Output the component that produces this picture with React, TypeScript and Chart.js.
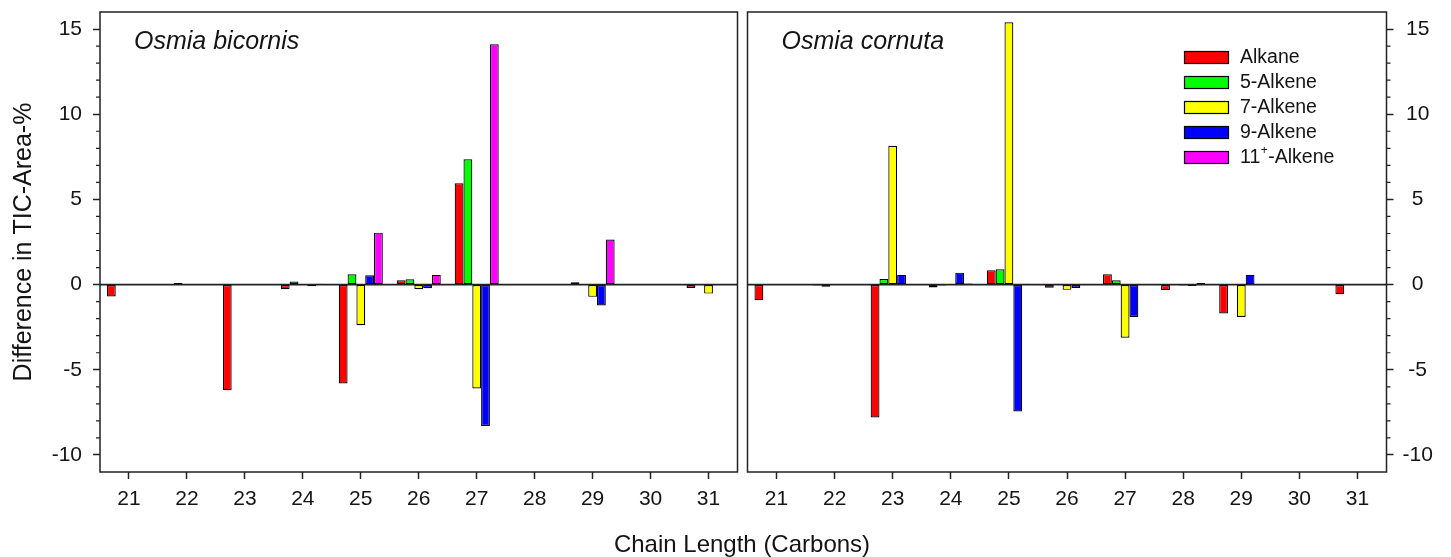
import { useEffect, useRef } from 'react';
import { Chart, registerables } from 'chart.js';

Chart.register(...registerables);

// ---------------- data ----------------
const chainLengths = ['21', '22', '23', '24', '25', '26', '27', '28', '29', '30', '31'];
const seriesNames = ['Alkane', '5-Alkene', '7-Alkene', '9-Alkene', '11⁺-Alkene'];
const seriesColors = ['#FF0000', '#00FF00', '#FFFF00', '#0000FF', '#FF00FF'];

// Osmia bicornis
const bicornisAlkane = [-0.7, 0, -6.2, -0.27, -5.8, 0.25, 5.95, 0, 0.14, 0, -0.2];
const bicornis5Alkene = [0, 0.1, 0, 0.18, 0.6, 0.31, 7.35, 0, 0, 0, 0];
const bicornis7Alkene = [0, 0, 0.03, 0, -2.38, -0.27, -6.1, 0, -0.72, 0, -0.53];
const bicornis9Alkene = [0, 0, 0.03, -0.1, 0.55, -0.21, -8.3, 0, -1.23, 0, 0];
const bicornis11Alkene = [0, 0, 0, 0.05, 3.05, 0.57, 14.1, 0, 2.65, 0, 0];

// Osmia cornuta
const cornutaAlkane = [-0.92, -0.05, -7.8, -0.17, 0.84, -0.18, 0.6, -0.33, -1.7, 0, -0.57];
const cornuta5Alkene = [0, -0.13, 0.33, -0.05, 0.9, 0.05, 0.25, 0, 0, 0, 0];
const cornuta7Alkene = [0.02, 0, 8.15, -0.03, 15.4, -0.31, -3.12, -0.05, -1.9, 0, -0.03];
const cornuta9Alkene = [0, 0, 0.57, 0.7, -7.45, -0.2, -1.9, -0.08, 0.57, 0, 0];
const cornuta11Alkene = [0, 0, 0, 0.06, 0.05, 0, 0, 0.1, 0, 0, 0];

const yMin = -11;
const yMax = 16;
const yMajorStep = 5;

const panelTitles = ['Osmia bicornis', 'Osmia cornuta'];
const xTitle = 'Chain Length (Carbons)';
const yTitle = 'Difference in TIC-Area-%';

// ---------------- styling ----------------
const FONT = "'Liberation Sans', Arial, sans-serif";
const INK = '#141414';
const LINE = '#222';

function makePlugin(side: 'left' | 'right') {
  return {
    id: 'panelDecor',
    afterDatasetsDraw(chart: any) {
      const { ctx, chartArea } = chart;
      const y = chart.scales.y;
      const y0 = y.getPixelForValue(0);
      ctx.save();
      ctx.strokeStyle = LINE;
      ctx.lineWidth = 1.6;
      ctx.beginPath();
      ctx.moveTo(chartArea.left, y0);
      ctx.lineTo(chartArea.right, y0);
      ctx.stroke();
      ctx.restore();
    },
    afterDraw(chart: any) {
      const { ctx, chartArea } = chart;
      const y = chart.scales.y;
      ctx.save();
      // frame
      ctx.strokeStyle = LINE;
      ctx.lineWidth = 1.5;
      ctx.strokeRect(chartArea.left, chartArea.top, chartArea.right - chartArea.left, chartArea.bottom - chartArea.top);
      // minor ticks
      ctx.lineWidth = 1.2;
      ctx.beginPath();
      for (let v = yMin + 1; v < yMax; v++) {
        if (v % yMajorStep === 0) continue;
        const py = y.getPixelForValue(v);
        if (side === 'left') {
          ctx.moveTo(chartArea.left - 4, py);
          ctx.lineTo(chartArea.left, py);
        } else {
          ctx.moveTo(chartArea.right, py);
          ctx.lineTo(chartArea.right + 4, py);
        }
      }
      ctx.stroke();
      // panel title
      ctx.fillStyle = INK;
      ctx.font = `italic 25px ${FONT}`;
      ctx.textBaseline = 'alphabetic';
      ctx.textAlign = 'left';
      ctx.fillText(side === 'left' ? panelTitles[0] : panelTitles[1], chartArea.left + 34, chartArea.top + 37);

      if (side === 'left') {
        // shared x-axis title, centred between the panels
        ctx.font = `24px ${FONT}`;
        ctx.textAlign = 'center';
        ctx.fillText(xTitle, 742, 552);
      } else {
        // legend
        const ds = chart.data.datasets;
        const sx = chartArea.right - 202.5;
        let sy = chartArea.top + 39;
        for (let i = 0; i < ds.length; i++) {
          ctx.fillStyle = ds[i].backgroundColor;
          ctx.fillRect(sx, sy, 45, 13);
          ctx.strokeStyle = '#000';
          ctx.lineWidth = 1.2;
          ctx.strokeRect(sx + 0.5, sy + 0.5, 44, 12);
          ctx.fillStyle = INK;
          ctx.font = `19.5px ${FONT}`;
          ctx.textAlign = 'left';
          ctx.textBaseline = 'middle';
          const label: string = ds[i].label;
          const ty = sy + 6.5;
          let tx = sx + 56;
          if (label.includes('⁺')) {
            const parts = label.split('⁺');
            ctx.fillText(parts[0], tx, ty);
            tx += ctx.measureText(parts[0]).width;
            ctx.font = `12px ${FONT}`;
            ctx.fillText('+', tx + 0.5, ty - 7);
            tx += ctx.measureText('+').width + 1;
            ctx.font = `19.5px ${FONT}`;
            ctx.fillText(parts[1], tx, ty);
          } else {
            ctx.fillText(label, tx, ty);
          }
          sy += 25;
        }
      }
      ctx.restore();
    },
  };
}

function makeConfig(side: 'left' | 'right', series: number[][]): any {
  const datasets = series.map((vals, i) => ({
    label: seriesNames[i],
    data: vals,
    backgroundColor: seriesColors[i],
    borderColor: '#000',
    borderWidth: 1.2,
    borderSkipped: false,
    categoryPercentage: 0.76,
    barPercentage: 1,
  }));
  const tickFont = { family: FONT, size: 21 };
  return {
    type: 'bar',
    data: { labels: chainLengths, datasets },
    plugins: [makePlugin(side)],
    options: {
      responsive: false,
      animation: false,
      events: [],
      layout: {
        padding: side === 'left'
          ? { top: 12, left: 0, right: 1451 - 737.5, bottom: 0 }
          : { top: 12, left: 5.5, right: 0, bottom: 0 },
      },
      plugins: { legend: { display: false }, tooltip: { enabled: false }, title: { display: false } },
      scales: {
        x: {
          type: 'category',
          offset: true,
          grid: { offset: false, drawOnChartArea: false, drawTicks: true, tickLength: 7, tickColor: LINE, tickWidth: 1.5 },
          border: { display: false },
          ticks: { font: tickFont, color: INK, padding: 8, maxRotation: 0, autoSkip: false },
          afterFit: (s: any) => { s.height = 85; s.paddingLeft = 0; s.paddingRight = 0; },
        },
        y: {
          type: 'linear',
          position: side,
          min: yMin,
          max: yMax,
          grid: {
            drawOnChartArea: false,
            drawTicks: true,
            tickLength: 7,
            tickWidth: 1.5,
            tickColor: (c: any) => (c.tick && c.tick.value % yMajorStep === 0 ? LINE : 'rgba(0,0,0,0)'),
          },
          border: { display: false },
          ticks: {
            stepSize: 1,
            autoSkip: false,
            font: tickFont,
            color: INK,
            padding: side === 'left' ? 11 : 9,
            crossAlign: side === 'left' ? 'near' : 'center',
            callback: (v: any) => (Number(v) % yMajorStep === 0 ? String(v) : ''),
          },
          title: side === 'left'
            ? { display: true, text: yTitle, color: INK, font: { family: FONT, size: 25 }, padding: { top: 9, bottom: 0 } }
            : { display: false },
          afterFit: (s: any) => {
            s.width = side === 'left' ? 100 : 709 - 644.5;
            s.paddingTop = 0;
            s.paddingBottom = 0;
          },
        },
      },
    },
  };
}

export default function App() {
  const leftRef = useRef<HTMLCanvasElement>(null);
  const rightRef = useRef<HTMLCanvasElement>(null);

  useEffect(() => {
    const left = new Chart(leftRef.current as HTMLCanvasElement, makeConfig('left', [
      bicornisAlkane, bicornis5Alkene, bicornis7Alkene, bicornis9Alkene, bicornis11Alkene,
    ]));
    const right = new Chart(rightRef.current as HTMLCanvasElement, makeConfig('right', [
      cornutaAlkane, cornuta5Alkene, cornuta7Alkene, cornuta9Alkene, cornuta11Alkene,
    ]));
    return () => {
      left.destroy();
      right.destroy();
    };
  }, []);

  return (
    <div style={{ position: 'absolute', left: 0, top: 0, width: 1451, height: 557, background: '#fff', overflow: 'hidden' }}>
      <canvas ref={leftRef} width={1451} height={557} style={{ position: 'absolute', left: 0, top: 0, width: 1451, height: 557 }} />
      <canvas ref={rightRef} width={709} height={557} style={{ position: 'absolute', left: 742, top: 0, width: 709, height: 557 }} />
    </div>
  );
}
